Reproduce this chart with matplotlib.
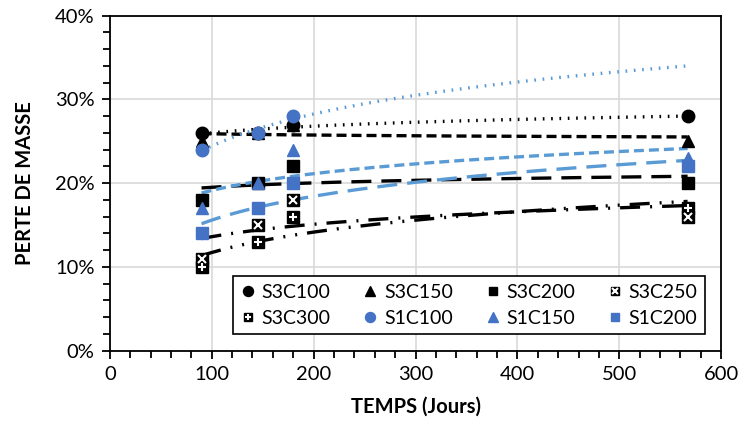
import numpy as np
import matplotlib
matplotlib.use("Agg")
import matplotlib.pyplot as plt
from matplotlib.ticker import MultipleLocator, FuncFormatter

plt.rcParams['font.family'] = ['Lato', 'DejaVu Sans']

# temps (jours)
jours = [90, 145, 180, 567]

# perte de masse (%)
s3c100 = [26, 26, 27, 28]
s3c150 = [25, 26, 27, 25]
s3c200 = [18, 20, 22, 20]
s3c250 = [11, 15, 18, 16]
s3c300 = [10, 13, 16, 17]
s1c100 = [24, 26, 28, np.nan]
s1c150 = [17, 20, 24, 23]
s1c200 = [14, 17, 20, 22]

noms = ["S3C100", "S3C150", "S3C200", "S3C250", "S3C300", "S1C100", "S1C150", "S1C200"]

NOIR = "black"
BLEU = "#4472C4"
BLEU_T = "#5B9BD5"

# (valeurs, marqueur, couleur marqueur, couleur tendance, style tendance, overlay)
series = [
    (s3c100, "o", NOIR, NOIR, (0, (0.5, 2.0)), None),
    (s3c150, "^", NOIR, NOIR, (0, (3, 1.5)), None),
    (s3c200, "s", NOIR, NOIR, (0, (6, 3)), None),
    (s3c250, "s", NOIR, NOIR, (0, (6, 3, 0.6, 3)), "x"),
    (s3c300, "s", NOIR, NOIR, (0, (6, 3, 0.6, 3, 0.6, 3)), "+"),
    (s1c100, "o", BLEU, BLEU_T, (0, (0.5, 2.0)), None),
    (s1c150, "^", BLEU, BLEU_T, (0, (3, 1.5)), None),
    (s1c200, "s", BLEU, BLEU_T, (0, (6, 3)), None),
]

fig = plt.figure(figsize=(7.42, 4.32), dpi=100)
ax = fig.add_axes([0.148, 0.188, 0.824, 0.776])

x = np.array(jours, dtype=float)
xt = np.linspace(min(jours), max(jours), 200)

for (vals, m, cm, ct, ls, over), nom in zip(series, noms):
    y = np.array(vals, dtype=float) / 100
    ok = ~np.isnan(y)
    # courbe de tendance logarithmique
    a, b = np.polyfit(np.log(x[ok]), y[ok], 1)
    ax.plot(xt, a * np.log(xt) + b, color=ct, lw=2.4, ls=ls, zorder=2)

handles = []
for (vals, m, cm, ct, ls, over), nom in zip(series, noms):
    y = np.array(vals, dtype=float) / 100
    ms = 9 if m != "s" else 8
    h, = ax.plot(x, y, ls="none", marker=m, ms=ms, color=cm, zorder=3)
    if over:
        h2, = ax.plot(x, y, ls="none", marker=over, ms=6, mew=1.5, color="white", zorder=4)
        handles.append((h, h2))
    else:
        handles.append(h)

ax.set_xlim(0, 600)
ax.set_ylim(0, 0.40)
ax.xaxis.set_major_locator(MultipleLocator(100))
ax.xaxis.set_minor_locator(MultipleLocator(20))
ax.yaxis.set_major_locator(MultipleLocator(0.10))
ax.yaxis.set_minor_locator(MultipleLocator(0.02))
ax.yaxis.set_major_formatter(FuncFormatter(lambda v, p: f"{v*100:.0f}%"))
ax.tick_params(which="major", length=6, width=1.3, direction="out", labelsize=14.5, pad=5)
ax.tick_params(which="minor", length=5, width=1.3, direction="out")
ax.grid(True, which="major", color="#D9D9D9", lw=1.2)
ax.set_axisbelow(True)
for s in ax.spines.values():
    s.set_linewidth(1.3)

ax.set_xlabel("TEMPS (Jours)", fontsize=14.5, fontweight="bold", labelpad=10)
ax.set_ylabel("PERTE DE MASSE", fontsize=14.5, fontweight="bold", labelpad=14)

# ordre par lignes dans la légende (4 colonnes)
ordre = [0, 4, 1, 5, 2, 6, 3, 7]
leg = ax.legend([handles[i] for i in ordre], [noms[i] for i in ordre], ncol=4,
                loc="lower right", bbox_to_anchor=(0.99, 0.02),
                fontsize=14, handlelength=0.7, handletextpad=0.35, columnspacing=1.7,
                markerscale=0.8, frameon=True, fancybox=False, borderpad=0.4,
                labelspacing=0.45)
leg.get_frame().set_edgecolor("black")
leg.get_frame().set_linewidth(1.2)
leg.get_frame().set_alpha(1)

fig.savefig("out.png", dpi=100)
